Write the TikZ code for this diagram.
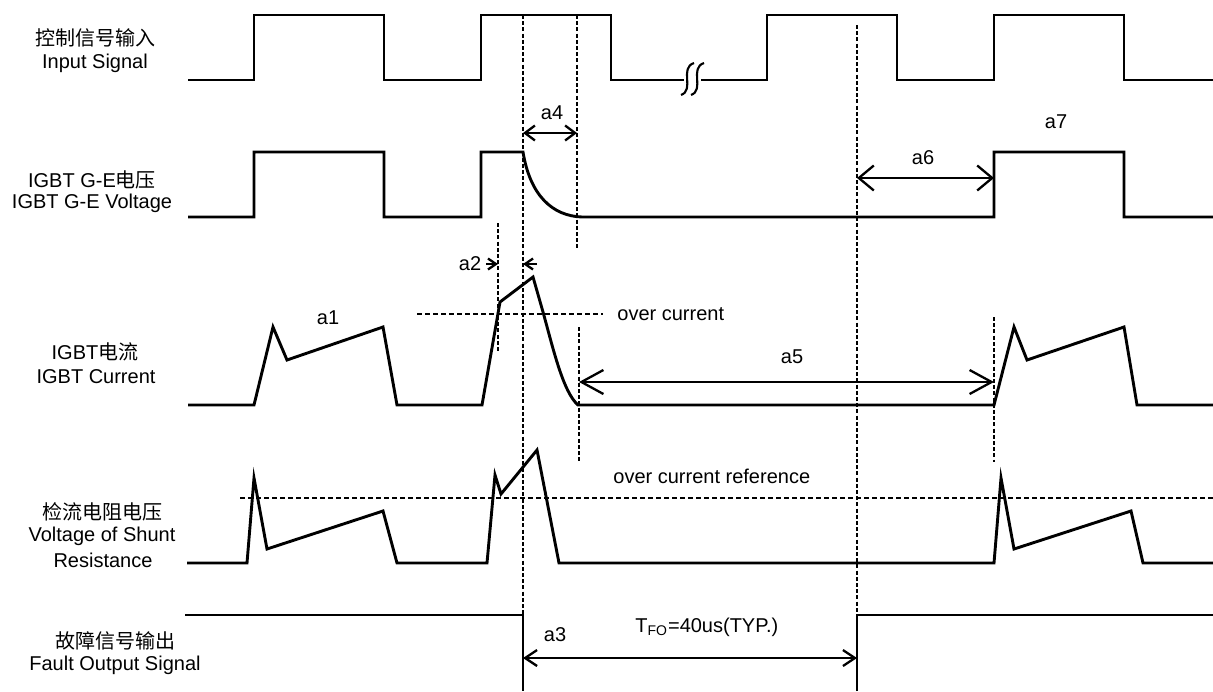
\documentclass[tikz,border=0pt]{standalone}
\usepackage{fontspec}
\setmainfont{Liberation Sans}
\newfontfamily\cjk{Noto Sans CJK SC}
\usetikzlibrary{arrows.meta}
\begin{document}
\begin{tikzpicture}[x=0.5pt,y=-0.5pt,
  wave/.style={line width=1.45pt},
  squig/.style={line width=1.05pt},
  vdash/.style={line width=1.15pt, dash pattern=on 2pt off 1.1pt},
  hdash/.style={line width=1.05pt, dash pattern=on 2.7pt off 1.3pt},
  dim/.style={line width=1.15pt},
  lbl/.style={font=\fontsize{10}{12}\selectfont, inner sep=0pt}]
\useasboundingbox (0,0) rectangle (1213,691);

% row labels
\node[lbl] (l1a) at (95,38) {\cjk 控制信号输入};
\node[lbl] (l1b) at (95,63) {Input Signal};
\node[lbl] (l2a) at (92,180) {IGBT G-E{\cjk 电压}};
\node[lbl] (l2b) at (92,203) {IGBT G-E Voltage};
\node[lbl] (l3a) at (95,352) {IGBT{\cjk 电流}};
\node[lbl] (l3b) at (96,377) {IGBT Current};
\node[lbl] (l4a) at (102,512) {\cjk 检流电阻电压};
\node[lbl] (l4b) at (102,536) {Voltage of Shunt};
\node[lbl] (l4c) at (103,560) {Resistance};
\node[lbl] (l5a) at (115,641) {\cjk 故障信号输出};
\node[lbl] (l5b) at (115,665) {Fault Output Signal};

% input signal
\draw[wave] (188,80) -- (254,80) -- (254,15) -- (384,15) -- (384,80) -- (481,80) -- (481,15) -- (611,15) -- (611,80) -- (684,80);
\draw[squig] (681,95) .. controls (695,90) and (679,68) .. (694,63);
\draw[squig] (691,95) .. controls (705,90) and (689,68) .. (704,63);
\draw[wave] (701,80) -- (767,80) -- (767,15) -- (897,15) -- (897,80) -- (994,80) -- (994,15) -- (1124,15) -- (1124,80) -- (1213,80);

% gate-emitter voltage
\draw[wave] (188,217) -- (254,217) -- (254,152) -- (384,152) -- (384,217) -- (481,217) -- (481,152) -- (523,152)
  .. controls (530,195) and (552,216) .. (582,217) -- (994,217) -- (994,152) -- (1124,152) -- (1124,217) -- (1213,217);

% IGBT current
\draw[wave] (188,405) -- (254,405) -- (273,327) -- (287,360) -- (383,327) -- (397,405) -- (482,405) -- (500,302) -- (533,277) -- (543,312)
  .. controls (553,348) and (563,392) .. (578,405) -- (994,405) -- (1014,327) -- (1027,360) -- (1124,327) -- (1137,405) -- (1213,405);

% shunt voltage
\draw[wave] (187,563) -- (247,563) -- (254,478) -- (267,549) -- (383,511) -- (397,563) -- (487,563) -- (495,475) -- (501,494) -- (537,450) -- (559,563) -- (994,563) -- (1001,478) -- (1014,549) -- (1131,511) -- (1143,563) -- (1213,563);

% fault output
\draw[wave] (185,615) -- (523,615) -- (523,691);
\draw[wave] (857,691) -- (857,615) -- (1213,615);

% marker lines
\draw[vdash] (523,15) -- (523,615);
\draw[vdash] (577,15) -- (577,250);
\draw[vdash] (579,327) -- (579,463);
\draw[vdash] (498,223) -- (498,352);
\draw[vdash] (857,25) -- (857,615);
\draw[vdash] (994,317) -- (994,462);
\draw[hdash] (417,314) -- (603,314);
\draw[hdash] (240,498) -- (1213,498);

% dimension arrows
\coordinate (a4L) at (523,133); \coordinate (a4R) at (577,133);
\coordinate (a6L) at (857,178); \coordinate (a6R) at (994,178);
\coordinate (a5L) at (579,382); \coordinate (a5R) at (994,382);
\coordinate (a3L) at (523,658); \coordinate (a3R) at (857,658);
\coordinate (a2Ls) at (486,264); \coordinate (a2Le) at (498,264);
\coordinate (a2Rs) at (537,264); \coordinate (a2Re) at (523,264);
\draw[dim, {Straight Barb[length=5pt,width=7.5pt]}-{Straight Barb[length=5pt,width=7.5pt]}] (a4L) -- (a4R);
\draw[dim, {Straight Barb[length=7.5pt,width=12.5pt]}-{Straight Barb[length=7.5pt,width=12.5pt]}] (a6L) -- (a6R);
\draw[dim, {Straight Barb[length=11pt,width=12pt]}-{Straight Barb[length=11pt,width=12pt]}] (a5L) -- (a5R);
\draw[dim, {Straight Barb[length=6pt,width=8pt]}-{Straight Barb[length=6pt,width=8pt]}] (a3L) -- (a3R);
\draw[dim, -{Straight Barb[length=4pt,width=5.5pt]}] (a2Ls) -- (a2Le);
\draw[dim, -{Straight Barb[length=4pt,width=5.5pt]}] (a2Rs) -- (a2Re);

% labels
\node[lbl] (a1) at (328,318) {a1};
\node[lbl] (a2) at (470,264) {a2};
\node[lbl] (a3) at (555,635) {a3};
\node[lbl] (a4) at (552,113) {a4};
\node[lbl] (a5) at (792,357) {a5};
\node[lbl] (a6) at (923,158) {a6};
\node[lbl] (a7) at (1056,122) {a7};
\node[lbl, anchor=west] (oc) at (617,314) {over current};
\node[lbl, anchor=west] (ocr) at (613,476) {over current reference};
\node[lbl, anchor=west] (tfo) at (635,627) {T\textsubscript{FO}=40us(TYP.)};
\end{tikzpicture}
\end{document}
